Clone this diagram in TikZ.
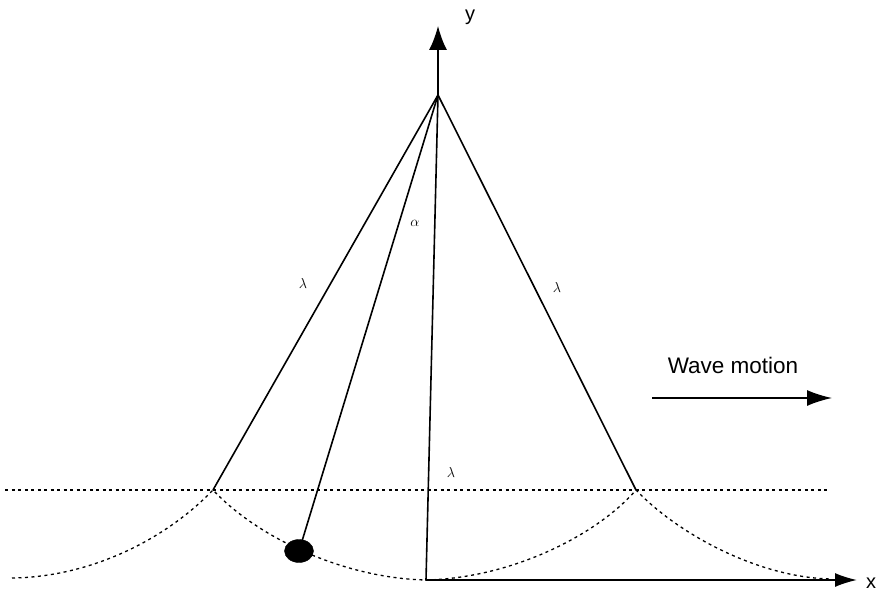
\documentclass[tikz,border=0pt]{standalone}
\usepackage{fontspec}
\setmainfont{Liberation Sans}
\usetikzlibrary{arrows.meta,shapes.geometric}
\begin{document}
\begin{tikzpicture}[x=1pt,y=-1pt,
  solid line/.style={line width=1.6pt, line cap=round},
  dotted wave/.style={line width=1.3pt, dash pattern=on 3pt off 3.5pt},
  big arrow/.style={-{Latex[length=24pt,width=18pt]}},
  lbl/.style={font=\fontsize{20}{22}\selectfont, inner sep=0pt},
  greek/.style={font=\fontsize{15}{16}\selectfont, inner sep=0pt}]
\useasboundingbox (0,0) rectangle (878,594);
% key points
\coordinate (apex) at (438,95);
\coordinate (ytip) at (438,26);
\coordinate (lc) at (213,490);
\coordinate (rc) at (636,490);
\coordinate (foot) at (426,580);
\coordinate (xtip) at (857,580);
\coordinate (lend) at (12,578);
\coordinate (rend) at (832,579);
\coordinate (hl) at (5,490);
\coordinate (hr) at (828,490);
\coordinate (wl) at (652,398);
\coordinate (wr) at (832,398);
\node[draw, fill=black, ellipse, minimum width=29pt, minimum height=23pt, inner sep=0pt] (ball) at (299,551) {};
% dotted still water line
\draw[dotted wave] (hl) -- (hr);
% dotted wave profile
\draw[dotted wave] (lend) .. controls (90,577) and (165,540) .. (lc)
  .. controls (255,535) and (340,578) .. (foot)
  .. controls (512,578) and (597,535) .. (rc)
  .. controls (679,535) and (760,578) .. (rend);
% axes
\draw[solid line, big arrow] (apex) -- (ytip);
\draw[solid line, -{Latex[length=22pt,width=14pt]}] (foot) -- (xtip);
\draw[solid line] (apex) -- (foot);
% cone lines
\draw[solid line] (apex) -- (lc);
\draw[solid line] (apex) -- (rc);
\draw[solid line] (apex) -- (ball);
% labels
\node[lbl] (ylab) at (470,17) {y};
\node[lbl, anchor=west] (xlab) at (866,583) {x};
\node[greek] (l1) at (303,283) {$\lambda$};
\node[greek] (l2) at (557,287) {$\lambda$};
\node[greek] (al) at (415,223) {$\alpha$};
\node[greek] (l3) at (451,472) {$\lambda$};
\node[lbl, font=\fontsize{22.5}{24}\selectfont] (wm) at (733,365) {Wave motion};
\draw[line width=1.6pt, -{Latex[length=25pt,width=16pt]}] (wl) -- (wr);
\end{tikzpicture}
\end{document}
